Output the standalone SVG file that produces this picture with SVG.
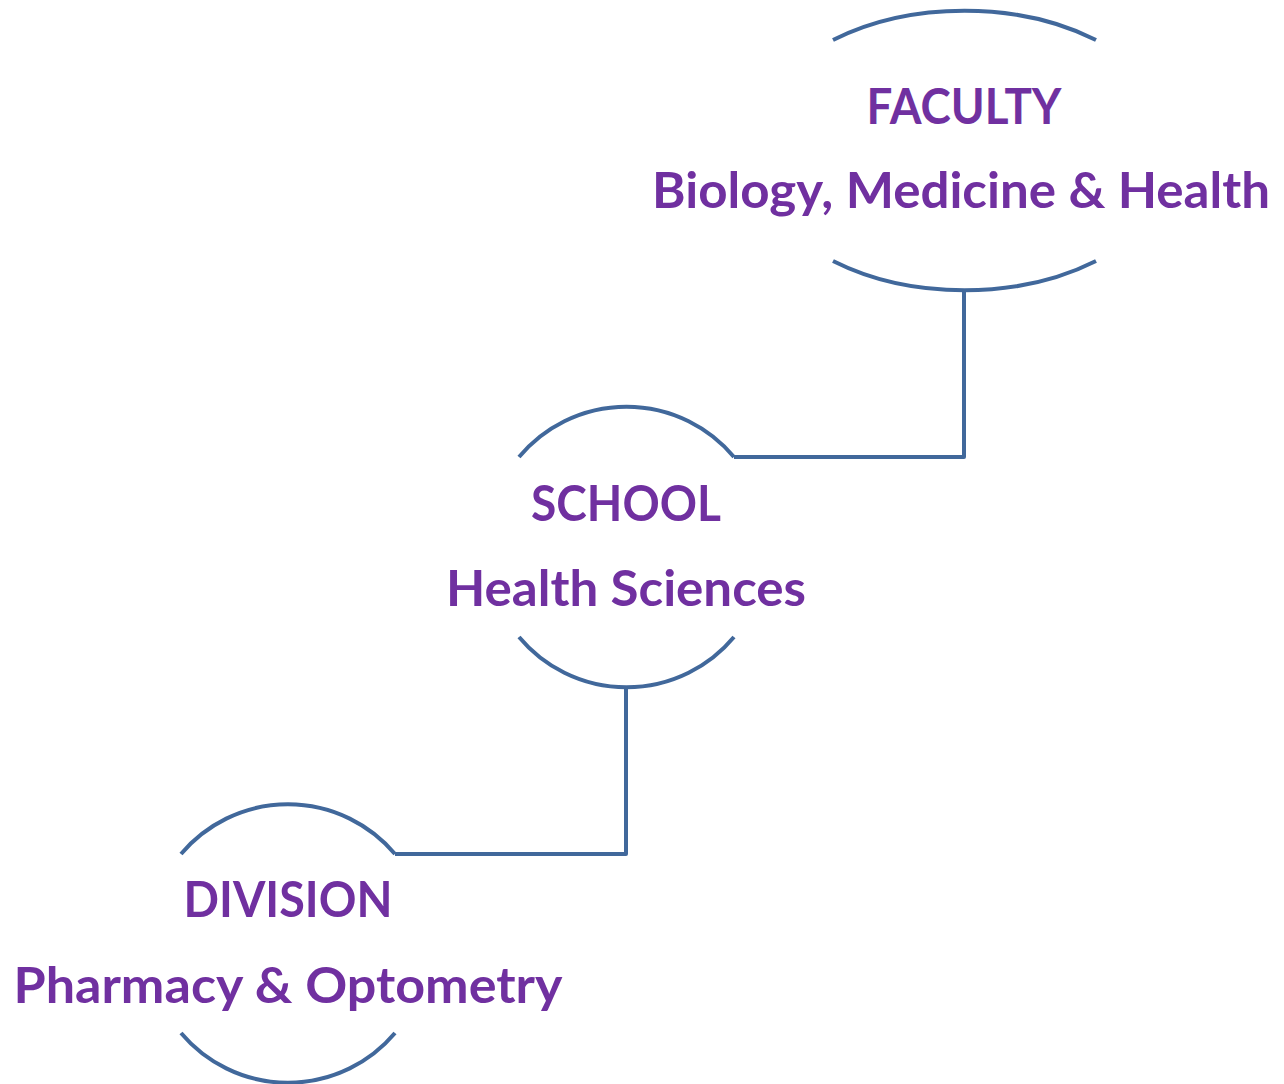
<svg xmlns="http://www.w3.org/2000/svg" width="1284" height="1084" viewBox="0 0 1284 1084">
<style>
.arc{fill:none;stroke:#41689B;stroke-width:4;}
.conn{fill:none;stroke:#41689B;stroke-width:4;stroke-linejoin:round;}
.t{font-family:Lato,"Open Sans","Liberation Sans",sans-serif;font-weight:bold;font-size:50px;fill:#7030A0;text-anchor:middle;}
</style>
<rect width="1284" height="1084" fill="#FFFFFF"/>
<g id="connectors">
<path class="conn" d="M734 457 H964 V291"/>
<path class="conn" d="M395 854 H626 V687"/>
</g>
<g id="node-faculty">
<path class="arc" d="M833 40 A215 140 0 0 1 1096 40"/>
<path class="arc" d="M833 261 A215 140 0 0 0 1096 261"/>
<text class="t" x="964" y="124" textLength="195" lengthAdjust="spacingAndGlyphs">FACULTY</text>
<text class="t" x="961" y="208" textLength="618" lengthAdjust="spacingAndGlyphs">Biology, Medicine &amp; Health</text>
</g>
<g id="node-school">
<path class="arc" d="M519 457 A140 140 0 0 1 734 457"/>
<path class="arc" d="M519 637 A140 140 0 0 0 734 637"/>
<text class="t" x="626" y="521" textLength="190" lengthAdjust="spacingAndGlyphs">SCHOOL</text>
<text class="t" x="626" y="606" textLength="360" lengthAdjust="spacingAndGlyphs">Health Sciences</text>
</g>
<g id="node-division">
<path class="arc" d="M181 854 A140 140 0 0 1 395 854"/>
<path class="arc" d="M181 1033 A140 140 0 0 0 395 1033"/>
<text class="t" x="288" y="917" textLength="209" lengthAdjust="spacingAndGlyphs">DIVISION</text>
<text class="t" x="288" y="1003" textLength="549" lengthAdjust="spacingAndGlyphs">Pharmacy &amp; Optometry</text>
</g>
</svg>
